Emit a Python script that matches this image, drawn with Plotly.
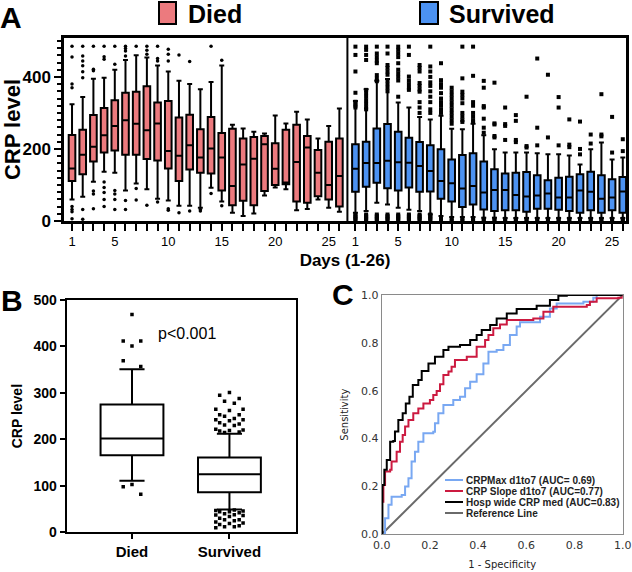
import plotly.graph_objects as go

# ---------------- Panel A data (days 1-26) ----------------
days = list(range(1, 27))
day_ticks = ["1" if d == 1 else (str(d) if d % 5 == 0 else "") for d in days]

died_upper = [324, 344, 395, 398, 420, 447, 460, 454, 432, 415, 389, 380, 366, 386, 432, 267, 257, 248, 243, 293, 271, 303, 282, 229, 264, 312]
died_q3 = [239, 253, 294, 314, 335, 356, 359, 374, 329, 333, 287, 295, 255, 289, 244, 256, 229, 233, 236, 216, 253, 267, 236, 197, 220, 229]
died_median = [146, 184, 206, 238, 264, 280, 270, 252, 271, 194, 181, 210, 176, 201, 176, 97, 157, 173, 213, 145, 107, 164, 204, 134, 100, 125]
died_q1 = [111, 130, 165, 190, 196, 184, 184, 172, 168, 146, 111, 143, 134, 132, 85, 44, 56, 44, 83, 100, 102, 54, 51, 69, 60, 40]
died_lower = [60, 67, 109, 137, 134, 85, 104, 88, 62, 57, 42, 42, 37, 92, 54, 23, 14, 21, 71, 93, 88, 30, 33, 60, 37, 26]
died_outliers = {
    1: [485, 455, 380, 370, 40, 32, 26, 6],
    2: [485, 458, 444, 431, 414, 398, 32, 5],
    3: [485, 421, 417, 83, 75, 34],
    4: [485, 456, 449, 108, 93, 79, 60, 40],
    5: [485, 435, 85, 75, 60, 32],
    6: [485, 479, 472, 458, 57, 32],
    7: [485, 90, 58],
    8: [485, 474, 463, 44],
    9: [485, 451, 444, 53],
    10: [477, 463, 444, 34, 30],
    11: [461, 23],
    12: [443, 28],
    13: [32, 28],
    14: [485, 76],
    15: [446, 42],
}

surv_upper = [333, 366, 389, 394, 329, 315, 289, 282, 292, 256, 255, 270, 238, 199, 190, 190, 190, 188, 185, 185, 182, 157, 199, 218, 171, 176]
surv_q3 = [213, 220, 257, 269, 248, 231, 219, 210, 199, 171, 183, 188, 165, 144, 132, 134, 136, 127, 113, 120, 123, 130, 137, 127, 116, 122]
surv_median = [145, 161, 161, 167, 163, 162, 153, 139, 111, 105, 90, 97, 79, 86, 86, 72, 68, 71, 76, 65, 65, 85, 81, 62, 65, 82]
surv_q1 = [81, 95, 106, 91, 85, 93, 81, 82, 62, 54, 39, 46, 32, 28, 30, 30, 26, 34, 34, 31, 28, 23, 30, 23, 30, 23]
surv_lower = [23, 28, 51, 46, 37, 31, 28, 19, 14, 11, 11, 11, 9, 9, 8, 8, 8, 8, 8, 8, 8, 8, 8, 8, 8, 8]
surv_outliers_high = {
    1: [484, 461, 415, 356, 331, 325, 320, 315],
    2: [484, 475, 461, 447, 364, 355, 345, 335, 325, 315, 310],
    3: [484, 465, 455, 445, 438, 405, 395, 388],
    4: [484, 465, 433, 425, 415, 406, 390, 380, 370, 360],
    5: [484, 475, 465, 455, 438, 420, 410, 400, 390, 345],
    6: [484, 461, 401, 390, 380, 370, 364],
    7: [433, 425, 415, 383, 375, 365, 359, 330, 315, 300],
    8: [484, 429, 415, 400, 385, 375, 360, 345, 330, 310, 300],
    9: [438, 391, 380, 370, 355, 340, 330, 320, 310, 300],
    10: [370, 360, 350, 340, 330, 320, 310, 300, 290, 280, 270],
    11: [484, 396, 359, 350, 340, 327, 300, 290, 280, 275],
    12: [484, 403, 330, 320, 300, 290, 280, 275],
    13: [389, 370, 319, 315, 284, 259, 245],
    14: [384, 271, 268, 236, 232],
    15: [315, 269, 264, 225],
    16: [294, 278, 225, 219],
    17: [345, 208, 204],
    18: [451, 259, 210],
    19: [406, 232],
    20: [344, 315, 210],
    21: [282, 212, 205],
    22: [276, 200, 185],
    23: [240, 215],
    24: [352, 240, 235],
    25: [289, 190],
    26: [227, 194],
}
surv_outliers_low = {d: ([2, 6, 10, 14, 18] if d <= 8 else [2, 6]) for d in days}

# ---------------- Panel B data ----------------
groups_b = ["Died", "Survived"]
b_upper = [351, 212]
b_q3 = [275, 161]
b_median = [202, 125]
b_q1 = [166, 86]
b_lower = [111, 49]
b_outliers_died = [469, 412, 412, 401, 369, 357, 103, 98, 82]
b_outliers_surv = [301, 295, 288, 282, 278, 265, 265, 262, 253, 253, 250, 245, 242, 242, 240,
                   236, 233, 231, 230, 222, 220, 219, 218, 216, 215,
                   48, 47, 46, 44, 44, 42, 40, 38, 37, 36, 34, 30, 27, 27, 25, 22, 20, 19, 17, 14, 12, 12, 10]

# ---------------- Panel C data (ROC) ----------------
roc_blue_fpr = [0, 0.014, 0.028, 0.041, 0.083, 0.097, 0.111, 0.124, 0.138, 0.152, 0.173, 0.214, 0.221, 0.235, 0.256, 0.297, 0.325, 0.346, 0.367, 0.394, 0.422, 0.443, 0.477, 0.505, 0.532, 0.56, 0.574, 0.657, 0.698, 0.726, 0.837, 0.878, 0.892, 1.0]
roc_blue_tpr = [0, 0.067, 0.123, 0.157, 0.164, 0.2, 0.234, 0.304, 0.345, 0.387, 0.422, 0.429, 0.464, 0.506, 0.54, 0.561, 0.575, 0.61, 0.638, 0.669, 0.714, 0.763, 0.77, 0.791, 0.833, 0.868, 0.886, 0.909, 0.944, 0.965, 0.972, 0.989, 1.0, 1.0]
roc_red_fpr = [0, 0.0, 0.007, 0.014, 0.035, 0.041, 0.062, 0.076, 0.087, 0.097, 0.111, 0.131, 0.152, 0.173, 0.2, 0.214, 0.228, 0.242, 0.256, 0.277, 0.29, 0.304, 0.353, 0.394, 0.429, 0.443, 0.463, 0.491, 0.519, 0.629, 0.671, 0.712, 0.851, 0.864, 0.892, 0.982, 1.0]
roc_red_tpr = [0, 0.136, 0.206, 0.262, 0.27, 0.304, 0.345, 0.387, 0.415, 0.45, 0.478, 0.506, 0.526, 0.547, 0.561, 0.582, 0.599, 0.627, 0.666, 0.68, 0.7, 0.728, 0.742, 0.784, 0.812, 0.833, 0.861, 0.877, 0.896, 0.902, 0.93, 0.951, 0.958, 0.972, 0.986, 0.989, 1.0]
roc_black_fpr = [0, 0.003, 0.011, 0.021, 0.035, 0.035, 0.048, 0.055, 0.069, 0.087, 0.1, 0.115, 0.129, 0.152, 0.166, 0.194, 0.221, 0.256, 0.277, 0.325, 0.367, 0.394, 0.415, 0.45, 0.477, 0.519, 0.56, 0.643, 0.698, 0.733, 0.768, 1.0]
roc_black_tpr = [0, 0.206, 0.27, 0.31, 0.35, 0.387, 0.39, 0.43, 0.478, 0.506, 0.547, 0.575, 0.624, 0.645, 0.682, 0.714, 0.742, 0.77, 0.784, 0.791, 0.812, 0.833, 0.854, 0.875, 0.902, 0.923, 0.942, 0.955, 0.979, 0.997, 1.0, 1.0]
ref_line = [0, 1]
roc_names = ["CRPMax d1to7 (AUC= 0.69)", "CRP Slope d1to7 (AUC=0.77)", "Hosp wide CRP med (AUC=0.83)", "Reference Line"]

# ---------------- styling ----------------
W, H = 632, 572
FONT = "Liberation Sans, Arial, sans-serif"
DIED_C = "#EC7A7E"
SURV_C = "#4C92F2"
C_BLUE = "#79A8F2"
C_RED = "#CC1A40"
C_GRAY = "#6a6a6a"

SURV_OFFSET = 26.5
died_x = days
surv_x = [d + SURV_OFFSET for d in days]


def px_x(x):
    return x / W


def px_y(y):
    return 1 - y / H


fig = go.Figure()

# Panel A boxes
fig.add_trace(go.Box(x=died_x, q1=died_q1, median=died_median, q3=died_q3,
                     lowerfence=died_lower, upperfence=died_upper,
                     width=0.62, whiskerwidth=0.75, fillcolor=DIED_C,
                     line=dict(color="black", width=2), boxpoints=False,
                     name="Died", showlegend=False, xaxis="x", yaxis="y"))
fig.add_trace(go.Box(x=surv_x, q1=surv_q1, median=surv_median, q3=surv_q3,
                     lowerfence=surv_lower, upperfence=surv_upper,
                     width=0.62, whiskerwidth=0.75, fillcolor=SURV_C,
                     line=dict(color="black", width=2), boxpoints=False,
                     name="Survived", showlegend=False, xaxis="x", yaxis="y"))

# Panel A outliers
dox, doy = [], []
for d, vals in died_outliers.items():
    for v in vals:
        dox.append(died_x[d - 1])
        doy.append(v)
fig.add_trace(go.Scatter(x=dox, y=doy, mode="markers", showlegend=False,
                         marker=dict(color="black", size=3.5, symbol="circle"),
                         xaxis="x", yaxis="y"))
sox, soy = [], []
for src in (surv_outliers_high, surv_outliers_low):
    for d, vals in src.items():
        for v in vals:
            sox.append(surv_x[d - 1])
            soy.append(v)
fig.add_trace(go.Scatter(x=sox, y=soy, mode="markers", showlegend=False,
                         marker=dict(color="black", size=4, symbol="square"),
                         xaxis="x", yaxis="y"))

# Panel B boxes
fig.add_trace(go.Box(x=[0, 1], q1=b_q1, median=b_median, q3=b_q3,
                     lowerfence=b_lower, upperfence=b_upper,
                     width=0.645, whiskerwidth=0.4, fillcolor="white",
                     line=dict(color="black", width=2), boxpoints=False,
                     showlegend=False, xaxis="x2", yaxis="y2"))
spread = [0, -0.1, 0.1, -0.05, 0.05, -0.14, 0.14]
bx, by = [], []
for i, v in enumerate(b_outliers_died):
    bx.append(0 + spread[i % 3] * 0.9)
    by.append(v)
for i, v in enumerate(b_outliers_surv):
    bx.append(1 + spread[i % len(spread)])
    by.append(v)
fig.add_trace(go.Scatter(x=bx, y=by, mode="markers", showlegend=False,
                         marker=dict(color="black", size=3.5, symbol="square"),
                         xaxis="x2", yaxis="y2"))

# Panel C ROC
fig.add_trace(go.Scatter(x=ref_line, y=ref_line, mode="lines", name=roc_names[3],
                         line=dict(color=C_GRAY, width=2), showlegend=False,
                         xaxis="x3", yaxis="y3"))
fig.add_trace(go.Scatter(x=roc_blue_fpr, y=roc_blue_tpr, mode="lines", name=roc_names[0],
                         line=dict(color=C_BLUE, width=2, shape="hv"), showlegend=False,
                         xaxis="x3", yaxis="y3"))
fig.add_trace(go.Scatter(x=roc_red_fpr, y=roc_red_tpr, mode="lines", name=roc_names[1],
                         line=dict(color=C_RED, width=2, shape="hv"), showlegend=False,
                         xaxis="x3", yaxis="y3"))
fig.add_trace(go.Scatter(x=roc_black_fpr, y=roc_black_tpr, mode="lines", name=roc_names[2],
                         line=dict(color="black", width=2, shape="hv"), showlegend=False,
                         xaxis="x3", yaxis="y3"))

tickvals_a = died_x + surv_x
ticktext_a = day_ticks + day_ticks

axis_common = dict(showgrid=False, zeroline=False, showline=True, linecolor="black",
                   mirror=True, automargin=False)

fig.update_layout(
    width=W, height=H, margin=dict(l=0, r=0, t=0, b=0, autoexpand=False),
    paper_bgcolor="white", plot_bgcolor="white",
    font=dict(family=FONT, color="black"),
    xaxis=dict(axis_common, domain=[px_x(64), px_x(626)], range=[0.25, 52.8], anchor="y",
               tickmode="array", tickvals=tickvals_a, ticktext=ticktext_a,
               ticks="outside", ticklen=7, tickwidth=2, tickcolor="black", linewidth=2.5,
               tickfont=dict(size=13),
               title=dict(text="<b>Days (1-26)</b>", font=dict(size=17), standoff=6)),
    yaxis=dict(axis_common, domain=[px_y(221), px_y(38)], range=[0, 508], anchor="x",
               tickmode="linear", tick0=0, dtick=200, ticks="outside", ticklen=7, tickwidth=2,
               tickcolor="black", linewidth=2.5,
               minor=dict(tickmode="linear", tick0=0, dtick=20, ticks="outside", ticklen=4,
                          tickwidth=1.5, tickcolor="black"),
               tickfont=dict(size=17), tickprefix="<b>", ticksuffix="</b>",
               title=dict(text="<b>CRP level</b>", font=dict(size=22), standoff=4)),
    xaxis2=dict(axis_common, domain=[px_x(66.7), px_x(295.7)], range=[-0.67, 1.68], anchor="y2",
                tickmode="array", tickvals=[0, 1], ticktext=["<b>%s</b>" % g for g in groups_b],
                ticks="outside", ticklen=5, tickwidth=2, tickcolor="black", linewidth=2,
                tickfont=dict(size=15)),
    yaxis2=dict(axis_common, domain=[px_y(532.3), px_y(300)], range=[0, 500], anchor="x2",
                tickmode="linear", tick0=0, dtick=100, ticks="outside", ticklen=5, tickwidth=2,
                tickcolor="black", linewidth=2, tickfont=dict(size=14),
                tickprefix="<b>", ticksuffix="</b>",
                title=dict(text="<b>CRP level</b>", font=dict(size=14), standoff=8)),
    xaxis3=dict(axis_common, domain=[px_x(381.7), px_x(622.7)], range=[0, 1], anchor="y3",
                linecolor="#8a8a8a", linewidth=1, tickmode="linear", tick0=0, dtick=0.2,
                tickformat=".1f", ticks="", tickfont=dict(family="DejaVu Sans", size=11, color="#333"),
                title=dict(text="1 - Specificity", font=dict(family="DejaVu Sans", size=10, color="#222"),
                           standoff=10)),
    yaxis3=dict(axis_common, domain=[px_y(534.3), px_y(295)], range=[0, 1], anchor="x3",
                linecolor="#8a8a8a", linewidth=1, tickmode="linear", tick0=0, dtick=0.2,
                tickformat=".1f", ticks="", tickfont=dict(family="DejaVu Sans", size=11, color="#333"),
                title=dict(text="Sensitivity", font=dict(family="DejaVu Sans", size=10, color="#222"),
                           standoff=10)),
)

# separator between Died and Survived blocks
fig.add_shape(type="line", xref="x", yref="y domain", x0=26.75, x1=26.75, y0=0, y1=1,
              line=dict(color="black", width=2))

# Panel A legend
for x0, x1, col in [(159, 176, DIED_C), (420, 438, SURV_C)]:
    fig.add_shape(type="rect", xref="paper", yref="paper", x0=px_x(x0), x1=px_x(x1),
                  y0=px_y(24), y1=px_y(2), fillcolor=col, line=dict(color="black", width=2))
fig.add_annotation(x=px_x(186), y=px_y(14), xref="paper", yref="paper", text="<b>Died</b>",
                   showarrow=False, xanchor="left", yanchor="middle", font=dict(size=25))
fig.add_annotation(x=px_x(447), y=px_y(14), xref="paper", yref="paper", text="<b>Survived</b>",
                   showarrow=False, xanchor="left", yanchor="middle", font=dict(size=25))

# Panel labels
for lab, x, y in [("A", 11, 18), ("B", 12, 300), ("C", 343, 294)]:
    fig.add_annotation(x=px_x(x), y=px_y(y), xref="paper", yref="paper", text="<b>%s</b>" % lab,
                       showarrow=False, xanchor="center", yanchor="middle", font=dict(size=30))

# p-value
fig.add_annotation(x=px_x(187), y=px_y(333), xref="paper", yref="paper", text="p<0.001",
                   showarrow=False, xanchor="center", yanchor="middle", font=dict(size=16))

# Panel C legend (manual)
leg_cols = [C_BLUE, C_RED, "black", C_GRAY]
for i, (nm, col) in enumerate(zip(roc_names, leg_cols)):
    yy = 480 + i * 11
    fig.add_shape(type="line", xref="paper", yref="paper", x0=px_x(445), x1=px_x(463),
                  y0=px_y(yy), y1=px_y(yy), line=dict(color=col, width=2))
    fig.add_annotation(x=px_x(464), y=px_y(yy), xref="paper", yref="paper", text="<b>%s</b>" % nm,
                       showarrow=False, xanchor="left", yanchor="middle",
                       font=dict(size=10, color="#222"))

fig.write_html("out.html", config={"displayModeBar": False},
               post_script=["document.body.style.margin='0px';"])
